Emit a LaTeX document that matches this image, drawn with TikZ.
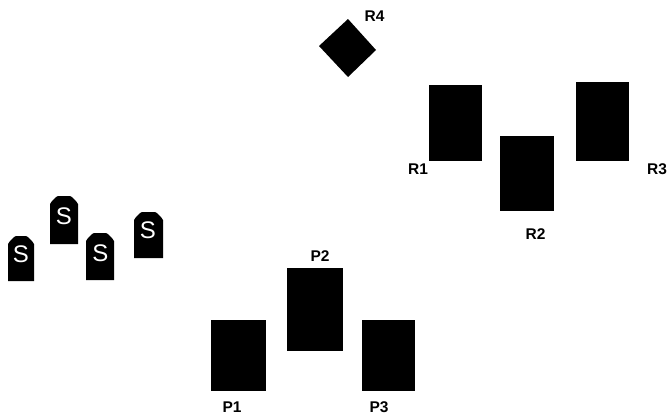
\documentclass[tikz,border=0pt]{standalone}
\usepackage{fontspec}
\setmainfont{Liberation Sans}
\begin{document}
\begin{tikzpicture}[x=1pt,y=-1pt,
  blk/.style={fill=black,draw=none},
  lbl/.style={font=\fontsize{15.5}{17}\selectfont\bfseries,text=black,inner sep=0pt},
  esse/.style={font=\fontsize{24}{26}\selectfont,text=white,inner sep=0pt}]
\useasboundingbox (0,0) rectangle (668,418);
\newcommand{\tomb}[7]{% name, x0, x1, y0, y1, Sx, Sy
  \fill[blk] (#2,#5) -- (#2,#4+8) -- (#2+2,#4+5) -- (#2+6,#4+1) -- (#2+8,#4) -- (#3-8,#4) -- (#3-6,#4+1) -- (#3-2,#4+5) -- (#3,#4+8) -- (#3,#5) -- cycle;
  \node[esse] (#1) at (#6,#7) {S};}
\tomb{s1}{8}{34}{236}{281}{21}{254.5}
\tomb{s2}{50}{78}{196}{244}{64}{216.5}
\tomb{s3}{86}{114}{233}{280}{100.5}{253}
\tomb{s4}{134}{163}{212}{258}{148}{230.5}
\fill[blk] (348,19) -- (376,50) -- (348,77) -- (319,46) -- cycle;
\fill[blk] (429,85) rectangle (482,161);
\fill[blk] (500,136) rectangle (554,211);
\fill[blk] (576,82) rectangle (629,161);
\fill[blk] (211,320) rectangle (266,391);
\fill[blk] (287,268) rectangle (343,351);
\fill[blk] (362,320) rectangle (415,391);
\node[lbl] (r1) at (418,169) {R1};
\node[lbl] (r2) at (535.5,234) {R2};
\node[lbl] (r3) at (657,169) {R3};
\node[lbl] (r4) at (374.5,16) {R4};
\node[lbl] (p1) at (232,407) {P1};
\node[lbl] (p2) at (320,256) {P2};
\node[lbl] (p3) at (379,407) {P3};
\end{tikzpicture}
\end{document}
